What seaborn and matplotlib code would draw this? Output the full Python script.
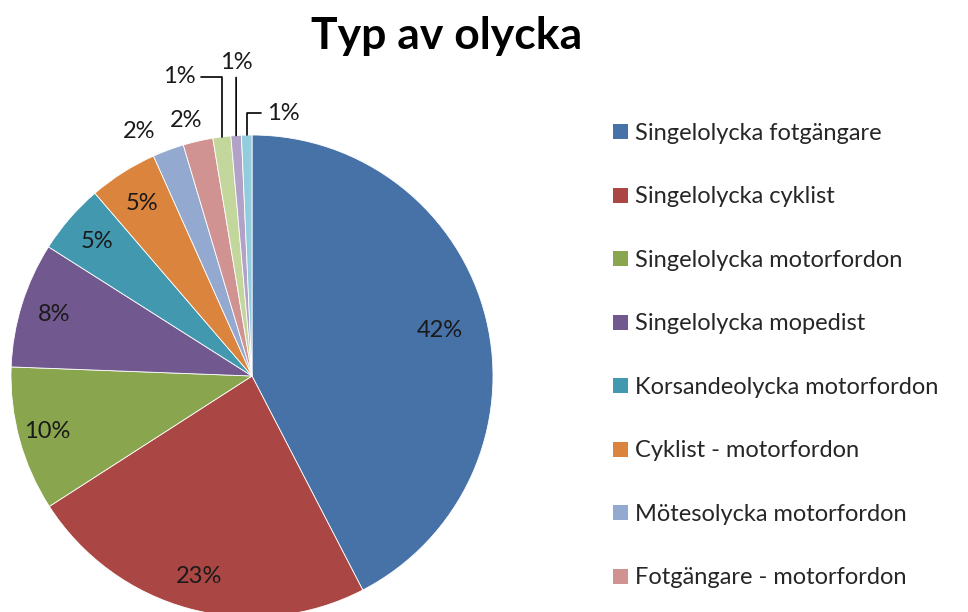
"""Pie chart: Typ av olycka"""

import numpy as np
import matplotlib
matplotlib.use("Agg")
import matplotlib.pyplot as plt
from matplotlib.patches import Patch
import seaborn as sns

categories = [
    "Singelolycka fotgängare",
    "Singelolycka cyklist",
    "Singelolycka motorfordon",
    "Singelolycka mopedist",
    "Korsandeolycka motorfordon",
    "Cyklist - motorfordon",
    "Mötesolycka motorfordon",
    "Fotgängare - motorfordon",
    "Upphinnandeolycka motorfordon",
    "Mopedist - motorfordon",
    "Övrigt",
]
shares = [42.4, 23.5, 9.7, 8.4, 4.7, 4.6, 2.1, 2.0, 1.2, 0.7, 0.7]
pct_labels = ["42%", "23%", "10%", "8%", "5%", "5%", "2%", "2%", "1%", "1%", "1%"]
colors = [
    "#4672A8", "#AA4643", "#89A54E", "#71588F", "#4198AF", "#DB843D",
    "#93A9CF", "#D19392", "#C3D69B", "#B3A2C7", "#93CDDD",
]
# only the first eight legend entries fit in the picture
n_legend = 8

sns.set_theme(style="white")
plt.rcParams["font.family"] = ["Lato", "DejaVu Sans"]

fig = plt.figure(figsize=(9.68, 6.12), dpi=100)
# pie centre at (252, 376) px, radius 241 px
ax = fig.add_axes([11 / 968, (612 - 376 - 241) / 612, 482 / 968, 482 / 612])

wedges, _ = ax.pie(
    shares, colors=colors, startangle=90, counterclock=False, radius=1,
    wedgeprops=dict(linewidth=0.6, edgecolor="white"),
)
ax.set_xlim(-1, 1)
ax.set_ylim(-1, 1)
ax.set_aspect("equal")
ax.axis("off")

label_kw = dict(fontsize=17, color="#1a1a1a")
line_kw = dict(arrowstyle="-", color="black", lw=1.2)

# label radius for the inner labels
inner_r = [0.80, 0.86, 0.88, 0.86, 0.85, 0.85]
# text offsets (from arc point) for the outside labels
outside = {
    6: (-0.12, 0.075, None),
    7: (-0.05, 0.085, None),
    8: (-0.11, 0.25, "left"),
    9: (0.0, 0.26, "up"),
    10: (0.085, 0.09, "right"),
}
for i, w in enumerate(wedges):
    mid = np.deg2rad((w.theta1 + w.theta2) / 2)
    pct = pct_labels[i]
    if i < len(inner_r):
        r = inner_r[i]
        ax.text(r * np.cos(mid), r * np.sin(mid), pct, ha="center", va="center",
                **label_kw)
        continue
    ex, ey = np.cos(mid), np.sin(mid)
    dx, dy, kind = outside[i]
    if kind is None:
        ax.text(ex + dx, ey + dy, pct, ha="center", va="center", **label_kw)
    elif kind == "left":
        ax.annotate(pct, xy=(ex, ey), xytext=(ex + dx, ey + dy),
                    ha="right", va="center", **label_kw,
                    arrowprops=dict(**line_kw, relpos=(1, 0.5), shrinkA=2, shrinkB=0,
                                    connectionstyle="angle,angleA=0,angleB=90,rad=0"))
    elif kind == "up":
        ax.annotate(pct, xy=(ex, ey), xytext=(ex + dx, ey + dy),
                    ha="center", va="bottom", **label_kw,
                    arrowprops=dict(**line_kw, relpos=(0.5, 0), shrinkA=1, shrinkB=0))
    else:
        ax.annotate(pct, xy=(ex, ey), xytext=(ex + dx, ey + dy),
                    ha="left", va="center", **label_kw,
                    arrowprops=dict(**line_kw, relpos=(0, 0.5), shrinkA=2, shrinkB=0,
                                    connectionstyle="angle,angleA=0,angleB=90,rad=0"))

fig.text(447 / 968, 1 - 36 / 612, "Typ av olycka", ha="center", va="center",
         fontsize=32, fontweight="bold", color="black")

handles = [Patch(facecolor=c, edgecolor="none") for c in colors[:n_legend]]
fig.legend(handles, categories[:n_legend], loc="upper left",
           bbox_to_anchor=(613 / 968, 1 - 123 / 612),
           frameon=False, fontsize=17, labelspacing=1.8,
           handlelength=0.62, handleheight=0.62, handletextpad=0.3,
           borderpad=0, borderaxespad=0, labelcolor="#262626")

fig.savefig("out.png", dpi=100)
